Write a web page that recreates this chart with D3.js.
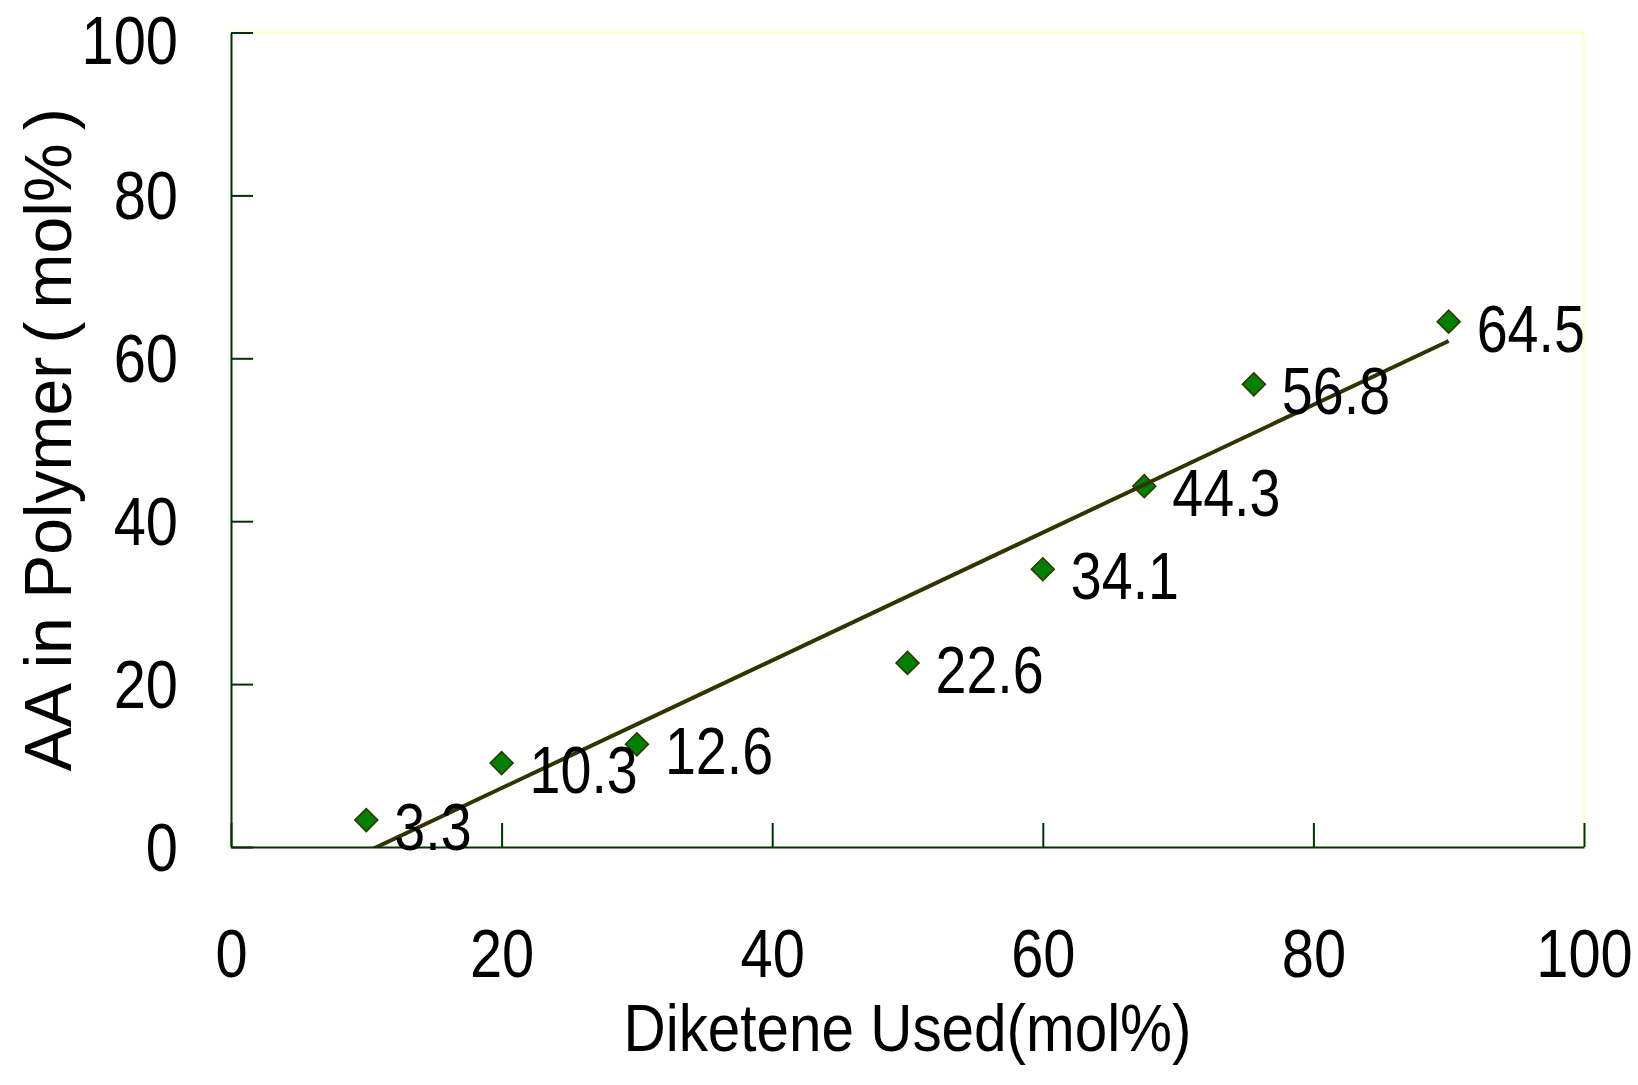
<!DOCTYPE html>
<html>
<head>
<meta charset="utf-8">
<script src="https://cdn.jsdelivr.net/npm/d3@7"></script>
<style>
  html, body { margin: 0; padding: 0; background: #ffffff; }
  svg { display: block; }
</style>
</head>
<body>
<svg id="chart" width="1638" height="1085"></svg>
<script>
// ---- data ----
const diketeneUsed = [10, 20, 30, 50, 60, 67.5, 75.6, 90];
const aaInPolymer = [3.3, 10.3, 12.6, 22.6, 34.1, 44.3, 56.8, 64.5];
const pointLabels = ["3.3", "10.3", "12.6", "22.6", "34.1", "44.3", "56.8", "64.5"];
const xTickValues = [0, 20, 40, 60, 80, 100];
const yTickValues = [0, 20, 40, 60, 80, 100];
const xTitle = "Diketene Used(mol%)";
const yTitle = "AA in Polymer\u2009(\u2009mol%\u2009)";

// ---- layout ----
const W = 1638, H = 1085;
const plot = { left: 231, right: 1584, top: 32.5, bottom: 847 };
const font = "'Liberation Sans', Arial, sans-serif";
const narrow = 0.85;
const axisColor = "#003300";

function squeeze(sel, k) {
  sel.attr("transform", function () {
    const tx = +this.getAttribute("x") || 0;
    return `translate(${tx},0) scale(${k},1) translate(${-tx},0)`;
  });
}

const svg = d3.select("#chart");
svg.append("rect").attr("width", W).attr("height", H).attr("fill", "#fff");

const x = d3.scaleLinear().domain([0, 100]).range([plot.left, plot.right]);
const y = d3.scaleLinear().domain([0, 100]).range([plot.bottom, plot.top]);

// plot frame (light top/right border)
svg.append("line").attr("x1", plot.left).attr("x2", plot.right)
  .attr("y1", plot.top).attr("y2", plot.top)
  .attr("stroke", "#ffffc0").attr("stroke-width", 2);
svg.append("line").attr("x1", plot.right).attr("x2", plot.right)
  .attr("y1", plot.top).attr("y2", plot.bottom)
  .attr("stroke", "#ffffc0").attr("stroke-width", 2);

// axes
const xAxis = d3.axisBottom(x).tickValues(xTickValues).tickSizeInner(-24).tickSizeOuter(0)
  .tickPadding(82).tickFormat(d3.format("d"));
const yAxis = d3.axisLeft(y).tickValues(yTickValues).tickSizeInner(-22).tickSizeOuter(0)
  .tickPadding(53).tickFormat(d3.format("d"));

const gx = svg.append("g").attr("transform", `translate(0,${plot.bottom})`).call(xAxis);
const gy = svg.append("g").attr("transform", `translate(${plot.left},0)`).call(yAxis);
[gx, gy].forEach(g => {
  g.select(".domain").attr("stroke", axisColor).attr("stroke-width", 2);
  g.selectAll(".tick line").attr("stroke", axisColor).attr("stroke-width", 2);
  g.selectAll(".tick text").attr("fill", "#000")
    .style("font-family", font).style("font-size", "68px");
  squeeze(g.selectAll(".tick text"), narrow);
});
gy.selectAll(".tick text").attr("dy", d => d === 100 ? "0.45em" : "0.34em");

// markers
svg.append("clipPath").attr("id", "plotclip").append("rect")
  .attr("x", plot.left).attr("y", plot.top)
  .attr("width", plot.right - plot.left).attr("height", plot.bottom - plot.top);

const pts = diketeneUsed.map((d, i) => ({ x: d, y: aaInPolymer[i], label: pointLabels[i] }));
const diamond = d3.symbol().type(d3.symbolSquare).size(265);
svg.append("g").selectAll("path").data(pts).join("path")
  .attr("d", diamond)
  .attr("transform", d => `translate(${x(d.x)},${y(d.y)}) rotate(45)`)
  .attr("fill", "#008000").attr("stroke", "#333300").attr("stroke-width", 1.5);

// linear trendline (least squares)
const mx = d3.mean(diketeneUsed), my = d3.mean(aaInPolymer);
const sxy = d3.sum(diketeneUsed, (d, i) => (d - mx) * (aaInPolymer[i] - my));
const sxx = d3.sum(diketeneUsed, d => (d - mx) * (d - mx));
const slope = sxy / sxx, intercept = my - slope * mx;
const xr = d3.extent(diketeneUsed);
const trend = xr.map(v => ({ x: v, y: slope * v + intercept }));
svg.append("path").datum(trend)
  .attr("clip-path", "url(#plotclip)")
  .attr("d", d3.line().x(d => x(d.x)).y(d => y(d.y)))
  .attr("fill", "none").attr("stroke", "#333300").attr("stroke-width", 4);

// data labels
const lbl = svg.append("g").selectAll("text").data(pts).join("text")
  .attr("x", d => x(d.x) + 28)
  .attr("y", d => y(d.y) + 30)
  .style("font-family", font).style("font-size", "67px")
  .attr("fill", "#000")
  .text(d => d.label);
squeeze(lbl, 0.83);

// axis titles
const xt = svg.append("text")
  .attr("x", (plot.left + plot.right) / 2).attr("y", 1051)
  .attr("text-anchor", "middle")
  .style("font-family", font).style("font-size", "66px")
  .attr("fill", "#000").text(xTitle);
squeeze(xt, 0.885);

svg.append("text")
  .attr("transform", `translate(71,${(plot.top + plot.bottom) / 2}) rotate(-90)`)
  .attr("text-anchor", "middle")
  .style("font-family", font).style("font-size", "66px")
  .attr("fill", "#000").text(yTitle);
</script>
</body>
</html>
